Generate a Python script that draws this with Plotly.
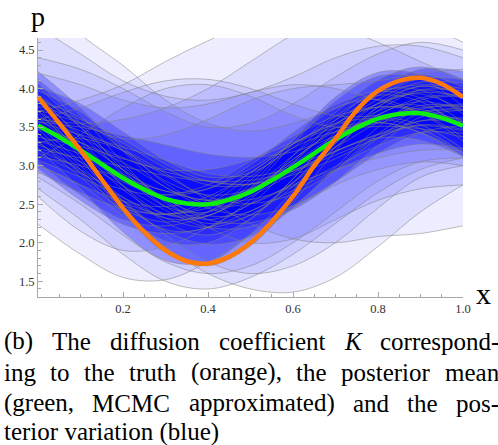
import plotly.graph_objects as go

# ---------------- data ----------------
x_fine = [0.0, 0.05, 0.1, 0.15, 0.2, 0.25, 0.3, 0.35, 0.4, 0.45, 0.5,
          0.55, 0.6, 0.65, 0.7, 0.75, 0.8, 0.85, 0.9, 0.95, 1.0]
truth = [3.89, 3.55, 3.20, 2.82, 2.45, 2.14, 1.90, 1.76, 1.73, 1.82, 2.00,
         2.27, 2.60, 3.00, 3.35, 3.72, 3.97, 4.10, 4.14, 4.06, 3.89]
post_mean = [3.52, 3.37, 3.20, 3.02, 2.84, 2.69, 2.57, 2.51, 2.50, 2.56, 2.66,
             2.81, 2.98, 3.16, 3.34, 3.49, 3.61, 3.67, 3.68, 3.62, 3.52]

x_coarse = [0.0, 0.1, 0.2, 0.3, 0.4, 0.5, 0.6, 0.7, 0.8, 0.9, 1.0]
core_samples = [
    [3.92, 3.50, 2.99, 2.57, 2.35, 2.41, 2.78, 3.29, 3.76, 3.98, 3.87],
    [3.22, 3.10, 2.99, 2.87, 2.80, 2.81, 2.93, 3.14, 3.36, 3.58, 3.62],
    [4.12, 3.65, 3.04, 2.52, 2.30, 2.51, 3.03, 3.59, 3.96, 3.98, 3.67],
    [3.02, 2.75, 2.54, 2.47, 2.60, 2.91, 3.28, 3.54, 3.61, 3.48, 3.17],
    [3.62, 3.45, 3.19, 2.87, 2.60, 2.51, 2.63, 2.94, 3.36, 3.68, 3.72],
    [3.77, 3.15, 2.54, 2.17, 2.20, 2.56, 3.13, 3.64, 3.91, 3.83, 3.47],
    [3.32, 2.85, 2.44, 2.27, 2.40, 2.81, 3.33, 3.74, 3.86, 3.68, 3.32],
    [3.57, 3.40, 3.24, 3.07, 2.90, 2.86, 2.98, 3.24, 3.56, 3.78, 3.77],
    [3.42, 2.95, 2.39, 2.02, 2.00, 2.31, 2.83, 3.39, 3.81, 3.93, 3.72],
    [3.97, 3.70, 3.24, 2.77, 2.50, 2.51, 2.78, 3.24, 3.71, 3.98, 3.97],
    [3.12, 3.00, 2.84, 2.67, 2.55, 2.56, 2.73, 2.99, 3.26, 3.43, 3.42],
    [3.82, 3.30, 2.74, 2.37, 2.35, 2.71, 3.28, 3.84, 4.16, 4.13, 3.77],
    [3.47, 3.30, 3.04, 2.72, 2.45, 2.36, 2.48, 2.79, 3.16, 3.43, 3.52],
    [4.22, 3.75, 3.19, 2.72, 2.55, 2.71, 3.13, 3.54, 3.76, 3.68, 3.37],
    [2.92, 2.65, 2.44, 2.37, 2.45, 2.66, 2.93, 3.19, 3.41, 3.58, 3.57],
    [3.67, 3.20, 2.69, 2.37, 2.40, 2.76, 3.33, 3.89, 4.21, 4.18, 3.87],
    [3.72, 3.55, 3.29, 2.97, 2.75, 2.76, 3.03, 3.39, 3.61, 3.53, 3.22],
    [3.27, 3.05, 2.74, 2.42, 2.20, 2.21, 2.48, 2.94, 3.41, 3.73, 3.77],
    [4.02, 3.50, 2.89, 2.47, 2.40, 2.66, 3.08, 3.44, 3.56, 3.43, 3.12],
    [3.17, 2.90, 2.69, 2.62, 2.75, 3.06, 3.38, 3.64, 3.76, 3.73, 3.57],
    [3.52, 3.05, 2.59, 2.32, 2.35, 2.66, 3.08, 3.49, 3.86, 4.08, 4.07],
    [3.87, 3.40, 2.94, 2.67, 2.70, 2.96, 3.28, 3.49, 3.56, 3.43, 3.17],
    [3.37, 3.25, 3.09, 2.92, 2.80, 2.76, 2.88, 3.09, 3.36, 3.53, 3.47],
    [4.07, 3.55, 2.94, 2.47, 2.25, 2.36, 2.73, 3.24, 3.66, 3.83, 3.72],
    [3.07, 2.85, 2.59, 2.32, 2.20, 2.36, 2.78, 3.34, 3.81, 4.03, 3.92],
    [3.62, 3.20, 2.79, 2.62, 2.70, 3.01, 3.43, 3.79, 3.96, 3.88, 3.57],
    [3.77, 3.60, 3.34, 3.02, 2.80, 2.76, 2.93, 3.19, 3.36, 3.33, 3.12],
    [3.32, 3.15, 2.89, 2.57, 2.30, 2.26, 2.43, 2.79, 3.26, 3.63, 3.72],
    [3.92, 3.35, 2.74, 2.27, 2.10, 2.31, 2.83, 3.44, 3.96, 4.18, 4.02],
    [3.47, 3.00, 2.54, 2.37, 2.50, 2.86, 3.23, 3.44, 3.51, 3.48, 3.37],
    [3.22, 2.70, 2.14, 1.77, 1.75, 2.11, 2.68, 3.29, 3.71, 3.78, 3.52],
    [3.72, 3.10, 2.39, 1.87, 1.70, 1.96, 2.53, 3.19, 3.76, 4.03, 3.92],
    [4.02, 3.80, 3.44, 3.07, 2.85, 2.91, 3.23, 3.69, 4.11, 4.28, 4.12],
    [2.97, 2.55, 2.24, 2.12, 2.20, 2.41, 2.68, 2.94, 3.16, 3.28, 3.22],
    [3.57, 3.50, 3.39, 3.27, 3.15, 3.11, 3.18, 3.39, 3.66, 3.88, 3.92],
    [3.42, 2.90, 2.49, 2.37, 2.55, 2.91, 3.28, 3.59, 3.91, 4.13, 4.12],
    [3.85, 3.62, 3.20, 2.80, 2.62, 2.70, 3.05, 3.52, 3.98, 4.25, 4.22],
    [3.05, 2.62, 2.30, 2.22, 2.35, 2.60, 2.90, 3.18, 3.40, 3.52, 3.45],
    [3.70, 3.38, 3.10, 2.95, 2.95, 3.08, 3.30, 3.55, 3.80, 3.95, 3.90],
    [3.30, 2.92, 2.50, 2.15, 1.98, 2.08, 2.45, 2.98, 3.50, 3.85, 3.90],
]
outlier_samples = [
    [5.20, 4.70, 4.30, 3.85, 3.55, 3.45, 3.55, 3.75, 3.95, 4.05, 4.00],
    [3.70, 3.85, 4.05, 4.35, 4.62, 4.85, 4.90, 4.80, 4.60, 4.35, 4.10],
    [4.80, 4.45, 4.10, 3.90, 3.85, 3.95, 4.15, 4.40, 4.55, 4.55, 4.40],
    [4.40, 4.25, 4.00, 3.70, 3.50, 3.55, 3.80, 4.15, 4.45, 4.60, 4.50],
    [3.60, 3.75, 3.95, 4.10, 4.12, 4.00, 3.80, 3.65, 3.65, 3.75, 3.80],
    [3.10, 3.40, 3.75, 4.00, 4.05, 3.90, 3.65, 3.50, 3.55, 3.70, 3.75],
    [4.20, 4.05, 3.85, 3.75, 3.80, 3.95, 4.05, 4.00, 3.85, 3.70, 3.60],
    [3.90, 3.55, 3.35, 3.40, 3.60, 3.85, 4.00, 4.05, 4.10, 4.20, 4.25],
    [3.60, 3.55, 3.60, 3.75, 4.00, 4.35, 4.70, 4.95, 5.00, 4.85, 4.60],
    [2.24, 1.85, 1.55, 1.52, 1.75, 2.10, 2.45, 2.75, 2.95, 3.05, 3.00],
    [2.70, 2.30, 1.85, 1.50, 1.40, 1.55, 1.85, 2.25, 2.65, 2.95, 3.10],
    [3.00, 2.75, 2.35, 1.95, 1.60, 1.40, 1.36, 1.55, 1.95, 2.40, 2.75],
    [3.30, 3.35, 3.20, 2.90, 2.55, 2.25, 2.05, 2.00, 2.08, 2.12, 2.22],
    [2.60, 2.15, 1.90, 1.95, 2.20, 2.50, 2.75, 2.95, 3.10, 3.20, 3.20],
    [2.85, 2.50, 2.10, 1.75, 1.60, 1.70, 2.00, 2.40, 2.80, 3.05, 3.10],
    [3.20, 2.95, 2.55, 2.10, 1.75, 1.60, 1.70, 2.00, 2.45, 2.85, 3.00],
    [3.50, 3.30, 2.95, 2.55, 2.20, 2.00, 2.05, 2.30, 2.55, 2.70, 2.75],
]
x_ticks = [0.2, 0.4, 0.6, 0.8, 1.0]
x_tick_labels = ["0.2", "0.4", "0.6", "0.8", "1.0"]
y_ticks = [1.5, 2.0, 2.5, 3.0, 3.5, 4.0, 4.5]
y_tick_labels = ["1.5", "2.0", "2.5", "3.0", "3.5", "4.0", "4.5"]

caption_lines = [
    ["(b)", "The", "diffusion", "coefficient", "K", "correspond-"],
    ["ing", "to", "the", "truth", "(orange),", "the", "posterior", "mean"],
    ["(green,", "MCMC", "approximated)", "and", "the", "pos-"],
    ["terior variation (blue)"],
]
caption_justified = [True, True, True, False]
caption_line_y = [341, 372, 403, 432]

# ---------------- figure ----------------
W, H = 498, 445
L, R, T, B = 38, 35, 38, 148
plot_h = H - T - B
plot_w = W - L - R

fig = go.Figure()

def add_fill(sample, alpha):
    fig.add_trace(go.Scatter(x=x_fine, y=post_mean, mode="lines",
                             line=dict(width=0, shape="spline"),
                             hoverinfo="skip", showlegend=False))
    fig.add_trace(go.Scatter(x=x_coarse, y=sample, mode="lines",
                             line=dict(width=0, shape="spline"),
                             fill="tonexty", fillcolor=f"rgba(0,0,255,{alpha})",
                             hoverinfo="skip", showlegend=False))

for s in outlier_samples:
    add_fill(s, 0.07)
for s in core_samples:
    add_fill(s, 0.24)

for s in outlier_samples + core_samples:
    fig.add_trace(go.Scatter(x=x_coarse, y=s, mode="lines",
                             line=dict(width=0.8, shape="spline", color="rgba(130,130,130,0.65)"),
                             hoverinfo="skip", showlegend=False))

fig.add_trace(go.Scatter(x=x_fine, y=post_mean, mode="lines",
                         line=dict(width=4.5, shape="spline", color="#10EE10"),
                         showlegend=False))
fig.add_trace(go.Scatter(x=x_fine, y=truth, mode="lines",
                         line=dict(width=4.5, shape="spline", color="#FF7A0A"),
                         showlegend=False))

serif = "Liberation Serif, Times New Roman, serif"
axis_common = dict(showgrid=False, zeroline=False, showline=True,
                   linecolor="#A8A8A8", linewidth=1,
                   ticks="inside", tickcolor="#A8A8A8", ticklen=5,
                   tickfont=dict(family=serif, size=12.5, color="#333"))
fig.update_xaxes(range=[0, 1], tickvals=x_ticks, ticktext=x_tick_labels,
                 minor=dict(dtick=0.05, ticks="inside", ticklen=3, tickcolor="#A8A8A8"),
                 **axis_common)
fig.update_yaxes(range=[1.296, 4.656], tickvals=y_ticks, ticktext=y_tick_labels,
                 minor=dict(dtick=0.1, ticks="inside", ticklen=3, tickcolor="#A8A8A8"),
                 **axis_common)

def px_to_paper_y(py):
    return (H - B - py) / plot_h

def px_to_paper_x(px):
    return (px - L) / plot_w

# approximate Times advance widths (per 1000 em) for justification of caption
TW = {" ": 250, "(": 333, ")": 333, ",": 250, "-": 333, "a": 444, "b": 500, "c": 444,
      "d": 500, "e": 444, "f": 333, "g": 500, "h": 500, "i": 278, "l": 278, "m": 778,
      "n": 500, "o": 500, "p": 500, "r": 333, "s": 389, "t": 278, "u": 500, "v": 500,
      "x": 500, "y": 500, "T": 611, "K": 667, "M": 889, "C": 667}
CAP_SIZE = 25
CAP_LEFT, CAP_RIGHT = 2, 497

def word_width(w):
    return sum(TW.get(c, 500) for c in w) * CAP_SIZE / 1000.0

annotations = [
    dict(text="p", x=px_to_paper_x(38), y=px_to_paper_y(17), xref="paper", yref="paper",
         xanchor="center", yanchor="middle", showarrow=False,
         font=dict(family=serif, size=28, color="black")),
    dict(text="x", x=px_to_paper_x(484), y=px_to_paper_y(293), xref="paper", yref="paper",
         xanchor="center", yanchor="middle", showarrow=False,
         font=dict(family=serif, size=30, color="black")),
]
for words, just, py in zip(caption_lines, caption_justified, caption_line_y):
    if just:
        widths = [word_width(w) for w in words]
        gap = (CAP_RIGHT - CAP_LEFT - sum(widths)) / (len(words) - 1)
        pos = CAP_LEFT
        for w, ww in zip(words, widths):
            txt = "<i>K</i>" if w == "K" else w
            annotations.append(dict(text=txt, x=px_to_paper_x(pos), y=px_to_paper_y(py),
                                    xref="paper", yref="paper", xanchor="left", yanchor="middle",
                                    showarrow=False,
                                    font=dict(family=serif, size=CAP_SIZE, color="black")))
            pos += ww + gap
    else:
        annotations.append(dict(text=words[0], x=px_to_paper_x(CAP_LEFT), y=px_to_paper_y(py),
                                xref="paper", yref="paper", xanchor="left", yanchor="middle",
                                showarrow=False,
                                font=dict(family=serif, size=CAP_SIZE, color="black")))

fig.update_layout(width=W, height=H, margin=dict(l=L, r=R, t=T, b=B),
                  plot_bgcolor="white", paper_bgcolor="white",
                  annotations=annotations, showlegend=False)

fig.write_html("out.html")
